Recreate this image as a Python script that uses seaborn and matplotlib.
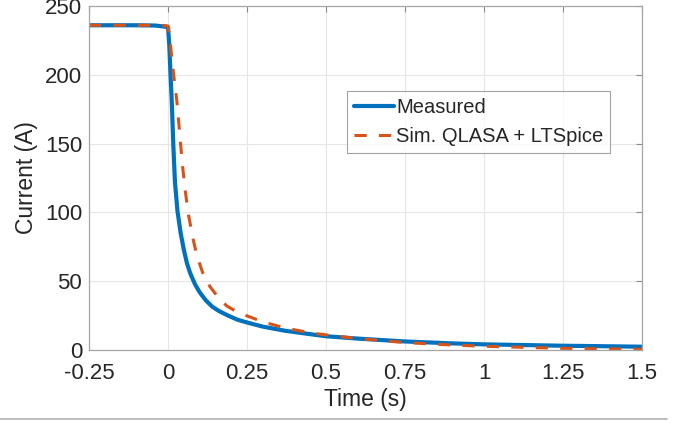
import numpy as np
import pandas as pd
import matplotlib.pyplot as plt
import seaborn as sns
from matplotlib.lines import Line2D

# Measured current (A) vs time (s)
t_meas = [-0.25, -0.1, -0.04, -0.01, 0.0, 0.004, 0.008, 0.012, 0.017, 0.022, 0.03,
          0.04, 0.05, 0.06, 0.07, 0.085, 0.1, 0.12, 0.14, 0.16, 0.19, 0.22, 0.25,
          0.3, 0.37, 0.45, 0.5, 0.6, 0.75, 0.9, 1.0, 1.25, 1.5]
i_meas = [236, 236, 235.8, 235, 234.5, 222, 200, 180, 148, 122, 101,
          85, 73, 63, 56, 48, 42, 36, 31.5, 28.5, 25, 22, 20,
          17, 14, 11.5, 10, 8.3, 6.2, 4.8, 4.1, 3.1, 2.4]

# Simulated current (QLASA + LTSpice)
t_sim = [-0.25, -0.1, -0.02, 0.0, 0.005, 0.01, 0.02, 0.028, 0.036, 0.045, 0.055,
         0.065, 0.08, 0.091, 0.11, 0.133, 0.16, 0.186, 0.22, 0.25, 0.3, 0.37,
         0.45, 0.5, 0.6, 0.75, 0.9, 1.0, 1.25, 1.5]
i_sim = [236, 236, 236, 235.5, 228, 217, 196, 181, 160, 136, 115,
         98, 80, 69, 56, 46, 38, 32, 27.5, 24.8, 20.5, 16,
         12.5, 11, 8.3, 5.4, 3.6, 2.7, 1.2, 0.5]

x_ticks = [-0.25, 0, 0.25, 0.5, 0.75, 1, 1.25, 1.5]
x_ticklabels = ['-0.25', '0', '0.25', '0.5', '0.75', '1', '1.25', '1.5']
y_ticks = [0, 50, 100, 150, 200, 250]

df_meas = pd.DataFrame({'Time': t_meas, 'Current': i_meas})
df_sim = pd.DataFrame({'Time': t_sim, 'Current': i_sim})

sns.set_style('white')
plt.rcParams['font.family'] = ['Liberation Sans', 'DejaVu Sans']

fig = plt.figure(figsize=(6.83, 4.23), dpi=100)
ax = fig.add_axes([89 / 683, 1 - 350 / 423, 553 / 683, 344 / 423])

sns.lineplot(data=df_meas, x='Time', y='Current', ax=ax, color='#0072BD',
             linewidth=3.0, label='Measured', sort=False, estimator=None)
sns.lineplot(data=df_sim, x='Time', y='Current', ax=ax, color='#D95319',
             linewidth=2.2, linestyle=(0, (4, 4)), label='Sim. QLASA + LTSpice',
             sort=False, estimator=None)

ax.set_xlim(-0.25, 1.5)
ax.set_ylim(0, 250)
ax.set_xticks(x_ticks)
ax.set_xticklabels(x_ticklabels)
ax.set_yticks(y_ticks)
ax.grid(True, color='#e6e6e6', linewidth=0.8)
ax.set_axisbelow(True)
ax.tick_params(direction='in', length=4, color='#8a8a8a', labelsize=16,
               labelcolor='#262626', top=True, right=True)
ax.tick_params(axis='x', labeltop=False, pad=9)
ax.tick_params(axis='y', labelright=False, pad=5)
for s in ax.spines.values():
    s.set_color('#a6a6a6')
    s.set_linewidth(0.9)

ax.set_xlabel('Time (s)', fontsize=16.5, color='#262626', labelpad=3)
ax.set_ylabel('Current (A)', fontsize=16.5, color='#262626', labelpad=5)

leg = ax.legend(loc='upper left', bbox_to_anchor=(0.466, 0.753), fontsize=14.5,
                frameon=True, fancybox=False, handlelength=2.0, handletextpad=0.1,
                borderpad=0.35, labelspacing=0.5, borderaxespad=0)
leg.get_frame().set_edgecolor('#8c8c8c')
leg.get_frame().set_linewidth(0.8)
for txt in leg.get_texts():
    txt.set_color('#262626')

# thin gray rule at the bottom of the page
fig.add_artist(Line2D([0, 667 / 683], [1 - 419 / 423] * 2, color='#b0b0b0',
                      linewidth=1.2, transform=fig.transFigure, zorder=0))

fig.savefig('out.png', dpi=100)
